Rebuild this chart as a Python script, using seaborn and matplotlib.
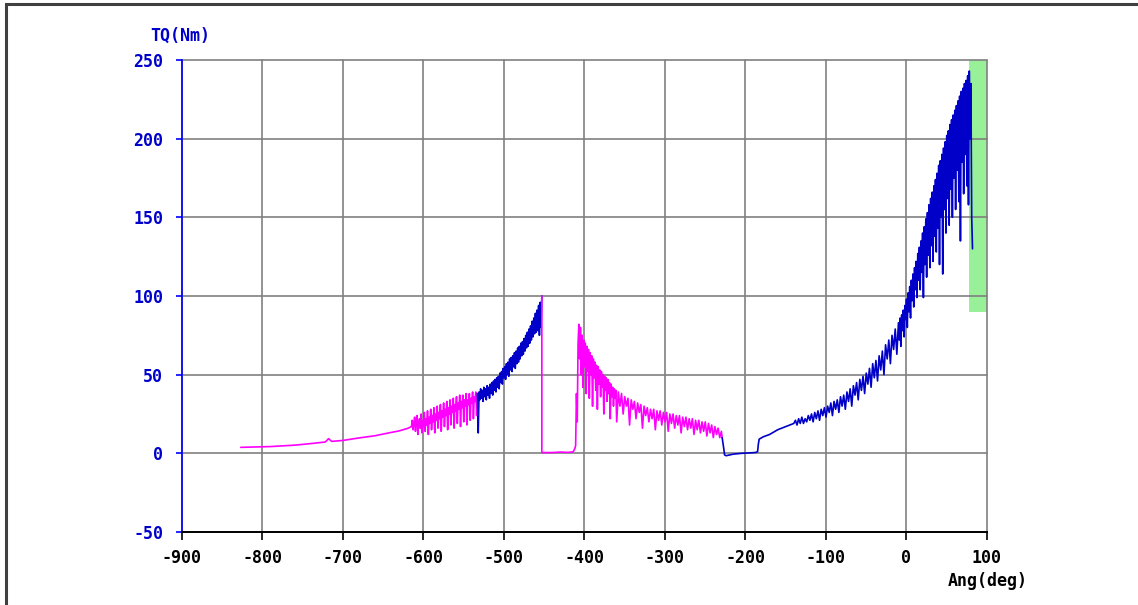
import numpy as np
import pandas as pd
import seaborn as sns
import matplotlib.pyplot as plt
from matplotlib.patches import Rectangle

# torque trace, split where the colour changes
ang1 = [-827, -790, -760, -740, -722, -718, -714, -700, -680, -660, -645, -630, -620,
        -615, -614, -613, -612, -611, -610, -609, -608, -607, -606, -605, -604, -603,
        -602, -601, -600, -599, -598, -597, -596, -595, -594, -593, -592, -591, -590,
        -589, -588, -587, -586, -585, -584, -583, -582, -581, -580, -579, -578, -577,
        -576, -575, -574, -573, -572, -571, -570, -569, -568, -567, -566, -565, -564,
        -563, -562, -561, -560, -559, -558, -557, -556, -555, -554, -553, -552, -551,
        -550, -549, -548, -547, -546, -545, -544, -543, -542, -541, -540, -539, -538,
        -537, -536, -535, -534, -533, -532]
tq1 = [3.8, 4.3, 5.2, 6.2, 7.2, 9.3, 7.6, 8.2, 9.8, 11.2, 12.8, 14.3, 15.8,
       17, 21, 15, 19, 23, 14, 20, 24, 12, 18, 22, 16, 25,
       13, 21, 17, 26, 14, 22, 18, 27, 12, 23, 19, 28, 15,
       24, 20, 29, 13, 25, 21, 30, 16, 26, 22, 31, 14, 27,
       23, 32, 17, 28, 24, 33, 15, 29, 25, 34, 18, 30, 26,
       35, 16, 31, 27, 36, 19, 32, 28, 37, 17, 33, 29, 37,
       20, 34, 30, 38, 18, 34, 31, 38, 21, 35, 32, 39, 22,
       36, 33, 39, 24, 37, 30]

ang2 = [-533, -532, -531, -530, -529, -528, -527, -526, -525, -524, -523, -522, -521,
        -520, -519, -518, -517, -516, -515, -514, -513, -512, -511, -510, -509, -508,
        -507, -506, -505, -504, -503, -502, -501, -500, -499, -498, -497, -496, -495,
        -494, -493, -492, -491, -490, -489, -488, -487, -486, -485, -484, -483, -482,
        -481, -480, -479, -478, -477, -476, -475, -474, -473, -472, -471, -470, -469,
        -468, -467, -466, -465, -464, -463, -462, -461, -460, -459, -458, -457, -456,
        -455, -454, -453]
tq2 = [38, 13, 39, 34, 41, 35, 40, 33, 42, 36, 41, 34, 43,
       37, 42, 35, 44, 38, 45, 37, 46, 40, 47, 39, 48, 42,
       49, 41, 51, 45, 52, 44, 54, 48, 55, 47, 57, 50, 58,
       49, 60, 53, 61, 52, 62, 55, 64, 54, 65, 57, 67, 58,
       68, 60, 70, 62, 71, 63, 73, 65, 75, 67, 77, 68, 79,
       70, 81, 72, 84, 74, 86, 76, 89, 77, 91, 78, 94, 75,
       96, 80, 100]

ang3 = [-453, -453, -440, -430, -420, -414, -412, -411, -410, -409, -408,
        -407, -406, -405, -404, -403, -402, -401, -400, -399, -398, -397, -396, -395,
        -394, -393, -392, -391, -390, -389, -388, -387, -386, -385, -384, -383, -382,
        -381, -380, -379, -378, -377, -376, -375, -374, -373, -372, -371, -370, -369,
        -368, -367, -366, -365, -364, -363, -362, -361, -360, -358, -356, -354, -352,
        -350, -348, -346, -344, -342, -340, -338, -336, -334, -332, -330, -328, -326,
        -324, -322, -320, -318, -316, -314, -312, -310, -308, -306, -304, -302, -300,
        -298, -296, -294, -292, -290, -288, -286, -284, -282, -280, -278, -276, -274,
        -272, -270, -268, -266, -264, -262, -260, -258, -256, -254, -252, -250, -248,
        -246, -244, -242, -240, -238, -236, -234, -232, -230, -229]
tq3 = [100, 0.5, 0.5, 0.8, 0.6, 1, 3, 5, 38, 20, 70,
       82, 60, 80, 50, 75, 42, 72, 55, 70, 38, 68, 52, 66,
       35, 64, 50, 62, 30, 60, 48, 58, 40, 56, 28, 55, 44,
       53, 36, 52, 42, 50, 25, 49, 40, 48, 33, 47, 38, 45,
       22, 44, 36, 42, 30, 41, 35, 40, 20, 39, 30, 38, 25,
       36, 30, 35, 18, 34, 28, 33, 22, 32, 26, 31, 16, 30,
       24, 29, 20, 28, 22, 28, 15, 27, 21, 27, 18, 26, 20,
       26, 14, 25, 19, 25, 16, 24, 18, 24, 13, 23, 17, 23,
       15, 22, 16, 22, 12, 21, 15, 21, 13, 20, 14, 20, 11,
       19, 13, 18, 10, 17, 12, 16, 10, 14, 10]

ang4 = [-229, -227, -226, -224, -215, -205, -195, -188, -185, -184, -183, -178,
        -170, -160, -150,
        -140, -138, -136, -134, -132, -130, -128, -126, -124, -122, -120, -118, -116,
        -114, -112, -110, -108, -106, -104, -102, -100, -98, -96, -94, -92, -90,
        -88, -86, -84, -82, -80, -78, -76, -74, -72, -70, -68, -66, -64,
        -62, -60, -58, -56, -54, -52, -50, -48, -46, -44, -42, -40, -38,
        -36, -34, -32, -30, -28, -26, -24, -22, -20, -18, -16, -14, -12, -10,
        -9, -8, -7, -6, -5, -4, -3, -2, -1, 0, 1, 2, 3, 4, 5, 6, 7, 8, 9, 10,
        11, 12, 13, 14, 15, 16, 17, 18, 19, 20, 21, 22, 23, 24, 25, 26, 27, 28, 29, 30,
        31, 32, 33, 34, 35, 36, 37, 38, 39, 40, 41, 42, 43, 44, 45, 46, 47, 48, 49, 50,
        51, 52, 53, 54, 55, 56, 57, 58, 59, 60, 61, 62, 63, 64, 65, 66, 67, 68, 69, 70,
        71, 72, 73, 74, 75, 76, 77, 78, 79, 80, 81, 82]
tq4 = [10, 3, -1, -1.5, -0.5, 0, 0.3, 0.5, 1, 6, 9, 10.5,
       12, 15, 17,
       19, 21, 18, 22, 19, 23, 19, 22, 20, 24, 21, 25, 20,
       26, 22, 27, 21, 28, 24, 29, 23, 30, 26, 32, 24, 33,
       28, 34, 26, 36, 30, 37, 28, 39, 33, 41, 30, 43, 37,
       45, 34, 47, 40, 49, 38, 51, 44, 54, 42, 57, 48, 59,
       46, 62, 53, 65, 50, 69, 60, 72, 57, 75, 66, 79, 63, 83,
       72, 86, 68, 88, 78, 91, 74, 94, 85, 98, 80, 102, 90, 106, 86, 110, 97, 114, 93, 118,
       104, 122, 99, 127, 110, 131, 104, 135, 115, 140, 99, 144, 120, 149, 112, 153, 126, 158, 118, 162,
       132, 166, 122, 170, 138, 174, 128, 178, 143, 183, 120, 186, 150, 190, 114, 194, 155, 198, 140, 202,
       162, 205, 145, 209, 168, 212, 150, 215, 175, 218, 155, 221, 180, 224, 160, 227, 135, 230, 185, 232,
       165, 235, 190, 237, 170, 240, 158, 243, 200, 235, 150, 130]

segments = [(ang1, tq1, "#ff00ff"), (ang2, tq2, "#0000c8"),
            (ang3, tq3, "#ff00ff"), (ang4, tq4, "#0000c8")]

xticks = [-900, -800, -700, -600, -500, -400, -300, -200, -100, 0, 100]
yticks = [-50, 0, 50, 100, 150, 200, 250]

sns.set_style("white")
plt.rcParams['font.family'] = ['DejaVu Sans Mono']

fig = plt.figure(figsize=(11.38, 6.05), dpi=100)
ax = fig.add_axes([182 / 1138, 1 - 532 / 605, 805 / 1138, 472 / 605])

# green limit window
ax.add_patch(Rectangle((78, 90), 22, 160, facecolor="#98f098", edgecolor="none", zorder=0.1))

for a, t, c in segments:
    seg = pd.DataFrame({"ang": a, "tq": t})
    sns.lineplot(data=seg, x="ang", y="tq", sort=False, estimator=None,
                 color=c, linewidth=1.2, ax=ax)

ax.set_xlim(-900, 100)
ax.set_ylim(-50, 250)
ax.set_xticks(xticks)
ax.set_yticks(yticks)
ax.set_xticklabels([str(v) for v in xticks], fontsize=12, fontweight="bold", color="black")
ax.set_yticklabels([str(v) for v in yticks], fontsize=12, fontweight="bold", color="#0000cc")
ax.set_xlabel("")
ax.set_ylabel("")

ax.set_axisbelow(True)
ax.grid(True, color="#808080", linewidth=1.2)
for side in ["top", "right"]:
    ax.spines[side].set_visible(False)
ax.spines["left"].set_color("#0000ff")
ax.spines["bottom"].set_color("black")
ax.spines["left"].set_linewidth(1.2)
ax.spines["bottom"].set_linewidth(1.4)
ax.tick_params(axis="y", direction="out", length=4.5, width=1.2, color="#0000ff", pad=9, left=True)
ax.tick_params(axis="x", direction="out", length=5.5, width=1.2, color="black", pad=7, bottom=True)
for gl in ax.get_xgridlines() + ax.get_ygridlines():
    gl.set_clip_on(False)

fig.text(180 / 1138, 1 - 36 / 605, "TQ(Nm)", color="#0000cc", fontsize=12,
         fontweight="bold", ha="center", va="center")
fig.text(988 / 1138, 1 - 581 / 605, "Ang(deg)", color="black", fontsize=12,
         fontweight="bold", ha="center", va="center")

# outer frame that runs off the right and bottom edges
fig.patches.append(Rectangle((5.5 / 1138, -0.5), 2.0, 1.5 - 3.5 / 605, transform=fig.transFigure,
                             fill=False, edgecolor="#404040", linewidth=2.2))

fig.savefig("out.png", dpi=100)
